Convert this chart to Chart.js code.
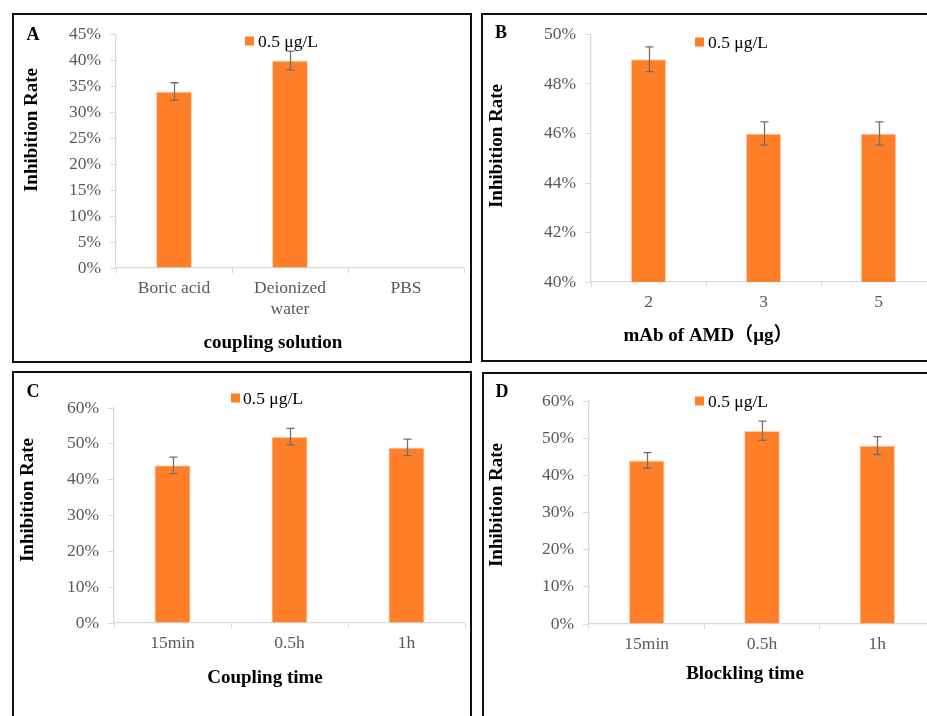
<!DOCTYPE html>
<html>
<head>
<meta charset="utf-8">
<script src="https://cdn.jsdelivr.net/npm/chart.js@4.4.1/dist/chart.umd.min.js"></script>
<style>
html, body { margin: 0; padding: 0; width: 927px; height: 716px; overflow: hidden; background: #fff; }
.panel { position: absolute; box-sizing: border-box; border: 2px solid #111; }
.panel canvas { display: block; }
</style>
</head>
<body>
<div class="panel" style="left:12px;top:13px;width:460px;height:350px"><canvas id="cA" width="456" height="346"></canvas></div>
<div class="panel" style="left:481px;top:13px;width:470px;height:349px"><canvas id="cB" width="466" height="345"></canvas></div>
<div class="panel" style="left:12px;top:371px;width:460px;height:360px"><canvas id="cC" width="456" height="356"></canvas></div>
<div class="panel" style="left:482px;top:372px;width:470px;height:360px"><canvas id="cD" width="466" height="356"></canvas></div>
<script>
// data
const seriesName = '0.5 μg/L';

const catsA = ['Boric acid', ['Deionized', 'water'], 'PBS'];
const rateA = [34, 40, null];
const errA = [1.7, 1.8, null];
const ticksA = [0, 5, 10, 15, 20, 25, 30, 35, 40, 45];

const catsB = ['2', '3', '5'];
const rateB = [49, 46, 46];
const errB = [0.5, 0.47, 0.47];
const ticksB = [40, 42, 44, 46, 48, 50];

const catsC = ['15min', '0.5h', '1h'];
const rateC = [44, 52, 49];
const errC = [2.3, 2.3, 2.3];
const ticksC = [0, 10, 20, 30, 40, 50, 60];

const catsD = ['15min', '0.5h', '1h'];
const rateD = [44, 52, 48];
const errD = [2.1, 2.6, 2.4];
const ticksD = [0, 10, 20, 30, 40, 50, 60];

const SERIF = "'Liberation Serif', 'Times New Roman', 'Noto Sans CJK SC', serif";
const BAR = '#FE7F27';
const AXIS = '#D9D9D9';
const TICK = '#595959';
const Y_W = 60, X_H = 60; // fixed axis box sizes

// error bars + panel texts (letter, legend, axis titles)
const decor = {
  id: 'decor',
  afterDatasetsDraw(chart, args, o) {
    const ctx = chart.ctx, xs = chart.scales.x, ys = chart.scales.y;
    ctx.save();
    ctx.strokeStyle = '#707070';
    ctx.lineWidth = 1.3;
    o.values.forEach((v, i) => {
      const e = o.errors[i];
      if (v == null || e == null) return;
      const px = Math.round(xs.getPixelForValue(i)) + 0.5;
      const top = ys.getPixelForValue(v + e), bot = ys.getPixelForValue(v - e);
      ctx.beginPath();
      ctx.moveTo(px, top); ctx.lineTo(px, bot);
      ctx.moveTo(px - 4, top); ctx.lineTo(px + 4, top);
      ctx.moveTo(px - 4, bot); ctx.lineTo(px + 4, bot);
      ctx.stroke();
    });
    ctx.restore();
  },
  afterDraw(chart, args, o) {
    const ctx = chart.ctx, ox = o.ox, oy = o.oy;
    ctx.save();
    ctx.fillStyle = '#000';
    ctx.textAlign = 'center';
    ctx.textBaseline = 'middle';
    ctx.font = 'bold 18px ' + SERIF;
    ctx.fillText(o.letter[0], o.letter[1] - ox, o.letter[2] - oy);
    // legend
    ctx.fillStyle = BAR;
    ctx.fillRect(o.legend[0] - ox, o.legend[1] - oy - 4.5, 9, 9);
    ctx.fillStyle = '#000';
    ctx.textAlign = 'left';
    ctx.font = '17.5px ' + SERIF;
    ctx.fillText(seriesName, o.legend[2] - ox, o.legend[1] - oy + 1);
    // axis titles
    ctx.textAlign = 'center';
    ctx.font = 'bold 19px ' + SERIF;
    ctx.fillText(o.xTitle[0], o.xTitle[1] - ox, o.xTitle[2] - oy);
    ctx.translate(o.yTitle[1] - ox, o.yTitle[2] - oy);
    ctx.rotate(-Math.PI / 2);
    ctx.fillText(o.yTitle[0], 0, 0);
    ctx.restore();
  }
};

function makePanel(id, p) {
  const cv = document.getElementById(id);
  const ox = p.box[0] + 2, oy = p.box[1] + 2;
  const padding = {
    left: p.area[0] - ox - Y_W,
    top: p.area[1] - oy,
    right: ox + cv.width - p.area[2],
    bottom: oy + cv.height - p.area[3] - X_H
  };
  const ticks = p.ticks;
  return new Chart(cv, {
    type: 'bar',
    data: {
      labels: p.cats,
      datasets: [{
        label: seriesName,
        data: p.values,
        backgroundColor: BAR,
        borderColor: '#FFD9BF',
        borderWidth: 1,
        categoryPercentage: 1,
        barPercentage: 0.31
      }]
    },
    options: {
      responsive: false,
      animation: false,
      layout: { padding },
      plugins: {
        legend: { display: false },
        tooltip: { enabled: false },
        decor: {
          ox, oy, values: p.values, errors: p.errors,
          letter: p.letter, legend: p.legend, xTitle: p.xTitle, yTitle: p.yTitle
        }
      },
      scales: {
        x: {
          afterFit: (s) => { s.height = X_H; },
          grid: { offset: true, drawOnChartArea: false, tickLength: 5, color: AXIS },
          border: { color: AXIS, width: 1.3 },
          ticks: { color: TICK, padding: 5, font: { family: SERIF, size: 17.5 } }
        },
        y: {
          min: ticks[0],
          max: ticks[ticks.length - 1],
          afterFit: (s) => { s.width = Y_W; },
          afterBuildTicks: (s) => { s.ticks = ticks.map(v => ({ value: v })); },
          grid: { drawOnChartArea: false, tickLength: 6, color: AXIS },
          border: { color: AXIS, width: 1.3 },
          ticks: {
            color: TICK, padding: 9,
            font: { family: SERIF, size: 17.5 },
            callback: (v) => v + '%'
          }
        }
      }
    },
    plugins: [decor]
  });
}

makePanel('cA', {
  box: [12, 13], area: [116, 27, 464, 268],
  cats: catsA, values: rateA, errors: errA, ticks: ticksA,
  letter: ['A', 33, 35], legend: [245, 41, 258],
  xTitle: ['coupling solution', 273, 343], yTitle: ['Inhibition Rate', 32, 130]
});
makePanel('cB', {
  box: [481, 13], area: [591, 31, 936, 282],
  cats: catsB, values: rateB, errors: errB, ticks: ticksB,
  letter: ['B', 501, 33], legend: [695, 42, 708],
  xTitle: ['mAb of AMD（μg）', 708, 336], yTitle: ['Inhibition Rate', 497, 146]
});
makePanel('cC', {
  box: [12, 371], area: [114, 408, 465, 623],
  cats: catsC, values: rateC, errors: errC, ticks: ticksC,
  letter: ['C', 33, 392], legend: [231, 398, 243],
  xTitle: ['Coupling time', 265, 678], yTitle: ['Inhibition Rate', 28, 500]
});
makePanel('cD', {
  box: [482, 372], area: [589, 401, 935, 624],
  cats: catsD, values: rateD, errors: errD, ticks: ticksD,
  letter: ['D', 502, 392], legend: [695, 401, 708],
  xTitle: ['Blockling time', 745, 674], yTitle: ['Inhibition Rate', 497, 505]
});
</script>
</body>
</html>
